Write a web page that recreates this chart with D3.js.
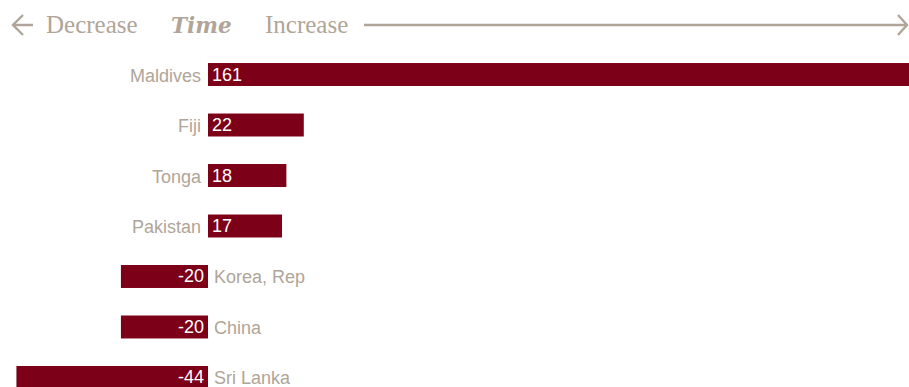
<!DOCTYPE html>
<html><head><meta charset="utf-8">
<script src="https://cdn.jsdelivr.net/npm/d3@7"></script>
<style>html,body{margin:0;padding:0;background:#fff;overflow:hidden}</style>
</head><body>
<svg id="c" width="909" height="387"></svg>
<script>
const countries = ["Maldives","Fiji","Tonga","Pakistan","Korea, Rep","China","Sri Lanka"];
const values = [161,22,18,17,-20,-20,-44];
const headerLabels = ["Decrease","Time","Increase"];

const W = 909, H = 387;
const barColor = "#7d0019", textColor = "#b0a598";
const svg = d3.select("#c");

const x = d3.scaleLinear().domain([0,161]).range([208,909]);
const y = d3.scaleBand().domain(countries).range([49.9,402.1]).paddingInner(0.545).paddingOuter(0.26);

// header
const hy = 25;
const g = svg.append("g");
g.append("path").attr("d",`M33,${hy} H13 M23,${hy-10} L13,${hy} L23,${hy+10}`)
  .attr("fill","none").attr("stroke",textColor).attr("stroke-width",2.4);
g.append("text").attr("x",46).attr("y",hy+8).text(headerLabels[0])
  .attr("font-family","Liberation Serif").attr("font-size",25).attr("fill",textColor);
g.append("text").attr("x",171).attr("y",hy+8).text(headerLabels[1])
  .attr("font-family","DejaVu Serif").attr("font-size",21.5).attr("font-weight","bold").attr("font-style","italic").attr("fill",textColor);
g.append("text").attr("x",265).attr("y",hy+8).text(headerLabels[2])
  .attr("font-family","Liberation Serif").attr("font-size",25).attr("fill",textColor);
g.append("path").attr("d",`M364,${hy} H907 M898,${hy-10} L907,${hy} L898,${hy+10}`)
  .attr("fill","none").attr("stroke",textColor).attr("stroke-width",2.4);

const rows = svg.selectAll("g.row").data(countries.map((c,i)=>({c,v:values[i]}))).join("g").attr("class","row");
rows.append("rect")
  .attr("x",d=>Math.min(x(0),x(d.v)))
  .attr("width",d=>Math.abs(x(d.v)-x(0)))
  .attr("y",d=>y(d.c)).attr("height",y.bandwidth())
  .attr("fill",barColor);
rows.append("text")
  .attr("x",d=>d.v>=0?x(0)+4:x(0)-4)
  .attr("text-anchor",d=>d.v>=0?"start":"end")
  .attr("y",d=>y(d.c)+y.bandwidth()/2+6)
  .attr("font-family","Liberation Sans").attr("font-size",18).attr("fill","#fff")
  .text(d=>d.v);
rows.append("text")
  .attr("x",d=>d.v>=0?x(0)-7:x(0)+6)
  .attr("text-anchor",d=>d.v>=0?"end":"start")
  .attr("y",d=>y(d.c)+y.bandwidth()/2+7)
  .attr("font-family","Liberation Sans").attr("font-size",18).attr("fill",textColor)
  .text(d=>d.c);
</script>
</body></html>
